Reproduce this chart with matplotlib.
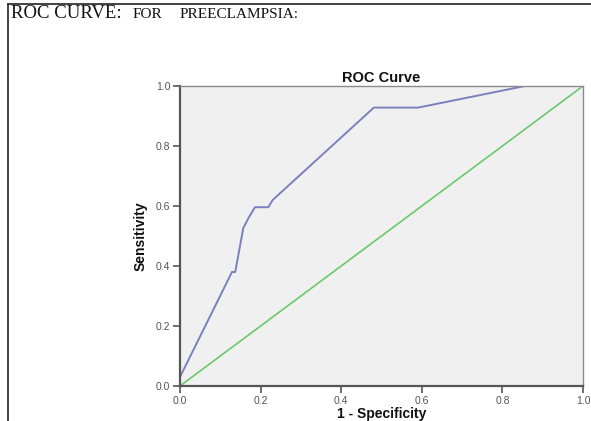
import matplotlib
matplotlib.use('Agg')
import matplotlib.pyplot as plt
from matplotlib.lines import Line2D

# ROC points
fpr = [0.0, 0.0, 0.129, 0.137, 0.157, 0.170, 0.186, 0.219, 0.230, 0.481, 0.591, 0.856, 1.0]
tpr = [0.0, 0.03, 0.38, 0.38, 0.526, 0.56, 0.596, 0.596, 0.62, 0.928, 0.928, 1.0, 1.0]
ref_x = [0.0, 1.0]
ref_y = [0.0, 1.0]
ticks = [0.0, 0.2, 0.4, 0.6, 0.8, 1.0]
tick_labels = ['0.0', '0.2', '0.4', '0.6', '0.8', '1.0']

fig = plt.figure(figsize=(5.91, 4.21), dpi=100)
fig.patch.set_facecolor('white')

# page frame lines (top and left)
W, H = 591, 421
fig.add_artist(Line2D([8 / W, 1.0], [1 - 4 / H, 1 - 4 / H], transform=fig.transFigure,
                      color='#333333', lw=1.3))
fig.add_artist(Line2D([8 / W, 8 / W], [0.0, 1 - 4 / H], transform=fig.transFigure,
                      color='#333333', lw=1.3))

fig.text(11 / W, 1 - 13 / H, 'ROC CURVE:', family='Liberation Serif',
         fontsize=13.5, va='center', ha='left', color='#111111')
fig.text(133 / W, 1 - 14 / H, 'FOR', family='Liberation Serif',
         fontsize=11, va='center', ha='left', color='#111111')
fig.text(180 / W, 1 - 14 / H, 'PREECLAMPSIA:', family='Liberation Serif',
         fontsize=11, va='center', ha='left', color='#111111')

ax = fig.add_axes([180 / W, 35 / H, 403 / W, 300 / H])
ax.set_facecolor('#f0f0f0')

ax.plot(ref_x, ref_y, color='#6cc86c', lw=1.2)
ax.plot(fpr, tpr, color='#7b80c0', lw=1.4)

ax.set_xlim(0, 1)
ax.set_ylim(0, 1)
ax.set_xticks(ticks)
ax.set_yticks(ticks)
ax.set_xticklabels(tick_labels)
ax.set_yticklabels(tick_labels)
ax.tick_params(direction='out', length=5, width=1.2, colors='#555555',
               labelsize=7.5, pad=2)
for lab in ax.get_xticklabels() + ax.get_yticklabels():
    lab.set_family('Liberation Sans')

for side in ['left', 'bottom']:
    ax.spines[side].set_color('#555555')
    ax.spines[side].set_linewidth(1.6)
for side in ['top', 'right']:
    ax.spines[side].set_color('#8a8a8a')
    ax.spines[side].set_linewidth(1.0)

ax.set_title('ROC Curve', family='Liberation Sans', fontweight='bold',
             fontsize=10.5, pad=3, color='#111111')
ax.set_xlabel('1 - Specificity', family='Liberation Sans', fontweight='bold',
              fontsize=10, labelpad=1, color='#111111')
ax.set_ylabel('Sensitivity', family='Liberation Sans', fontweight='bold',
              fontsize=10, labelpad=6, color='#111111')

fig.savefig('out.png', dpi=100, facecolor='white')
